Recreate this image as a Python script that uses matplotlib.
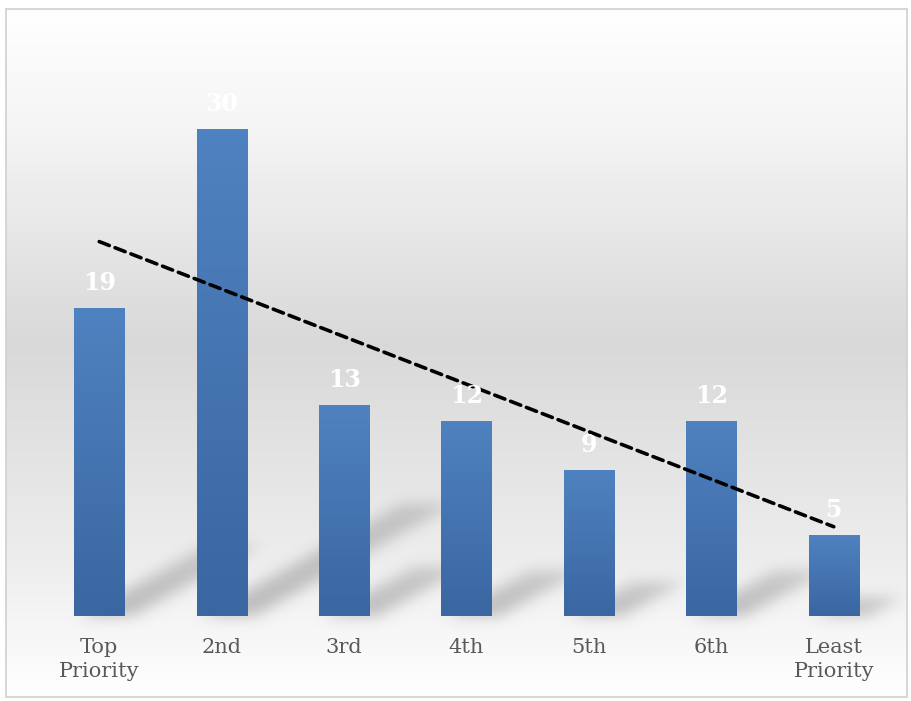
import matplotlib
matplotlib.use('Agg')
import matplotlib.pyplot as plt
import numpy as np
from matplotlib.path import Path
from matplotlib.colors import LinearSegmentedColormap

categories = ['Top\nPriority', '2nd', '3rd', '4th', '5th', '6th', 'Least\nPriority']
values = [19, 30, 13, 12, 9, 12, 5]

W, H = 911, 701
plt.rcParams['font.family'] = ['DejaVu Serif']

fig = plt.figure(figsize=(W / 100, H / 100), dpi=100)
fig.patch.set_facecolor('white')

# background layer (pixel coords, origin top-left)
bg_ax = fig.add_axes([0, 0, 1, 1], zorder=0)
bg_ax.set_xlim(0, W)
bg_ax.set_ylim(H, 0)
bg_ax.axis('off')

# main chart axes
ax = fig.add_axes([38 / W, 85 / H, 857 / W, 568 / H], zorder=1)
ax.patch.set_alpha(0)
x = np.arange(len(values))
ax.set_xlim(-0.5, len(values) - 0.5)
ax.set_ylim(0, 35)
for s in ax.spines.values():
    s.set_visible(False)
ax.set_yticks([])
ax.set_xticks(x)
ax.set_xticklabels(categories, fontsize=15, color='#595959', linespacing=1.35)
ax.tick_params(axis='x', length=0, pad=16)

# vertical gradient background
yy = np.arange(H)
stops_y = [0, 120, 340, 560, 700]
stops_v = [1.0, 0.96, 0.85, 0.93, 1.0]
grey = np.interp(yy, stops_y, stops_v)
bg = np.repeat(grey[:, None], W, axis=1)
bg_ax.imshow(np.dstack([bg, bg, bg]), extent=(6, 907, 697, 9), aspect='auto',
             interpolation='bilinear', zorder=0)
bg_ax.add_patch(plt.Rectangle((6, 9), 901, 688, fill=False, ec='#d0d0d0', lw=1.2, zorder=3))

# soft diagonal shadows behind the bars, derived from bar geometry
fig.canvas.draw()
bar_w = 0.41
to_px = ax.transData
shadow = np.zeros((H, W))
gx, gy = np.meshgrid(np.arange(W) + 0.5, np.arange(H) + 0.5)
pts = np.column_stack([gx.ravel(), gy.ravel()])
for xi, v in zip(x, values):
    (xl, yb), = to_px.transform([(xi - bar_w / 2, 0)])
    (xr, yt), = to_px.transform([(xi + bar_w / 2, v)])
    yb, yt = H - yb, H - yt
    hpx = yb - yt
    dx, dy = 0.40 * hpx, 0.23 * hpx
    poly = Path([(xl + 5, yb), (xr + 8, yb), (xr + dx + 12, yb - dy), (xl + dx + 10, yb - dy)])
    inside = poly.contains_points(pts).reshape(H, W)
    t = np.clip((yb - gy) / max(dy, 1), 0, 1)
    shadow = np.maximum(shadow, inside * (0.36 * (1 - 0.3 * t)))

def blur(img, sigma):
    r = int(3 * sigma)
    k = np.exp(-0.5 * (np.arange(-r, r + 1) / sigma) ** 2)
    k /= k.sum()
    img = np.apply_along_axis(lambda m: np.convolve(m, k, mode='same'), 0, img)
    img = np.apply_along_axis(lambda m: np.convolve(m, k, mode='same'), 1, img)
    return img

shadow = blur(shadow, 7)
rgba = np.zeros((H, W, 4))
rgba[..., :3] = 0.35
rgba[..., 3] = shadow
bg_ax.imshow(rgba, extent=(0, W, H, 0), aspect='auto', zorder=1)

# bars with a vertical blue gradient
bars = ax.bar(x, values, width=bar_w, color='#4a7ab6', zorder=2)
cmap = LinearSegmentedColormap.from_list('bluegrad', ['#3a66a1', '#4f82c0'])
grad = np.linspace(0, 1, 256)[:, None]
for b in bars:
    im = ax.imshow(grad, cmap=cmap, aspect='auto', origin='lower',
                   extent=(b.get_x(), b.get_x() + b.get_width(), 0, b.get_height()),
                   zorder=2.5)
    im.set_clip_path(b)
ax.set_xlim(-0.5, len(values) - 0.5)
ax.set_ylim(0, 35)

# data labels
for xi, v in zip(x, values):
    ax.annotate(str(v), (xi, v), xytext=(0, 13), textcoords='offset points',
                ha='center', va='baseline', color='white', fontsize=17,
                fontweight='bold', zorder=5)

# linear trendline
coef = np.polyfit(x, values, 1)
ax.plot(x, np.polyval(coef, x), color='black', lw=2.6, linestyle=(0, (3.0, 1.7)),
        dash_capstyle='round', zorder=4)

fig.savefig('out.png', dpi=100)
